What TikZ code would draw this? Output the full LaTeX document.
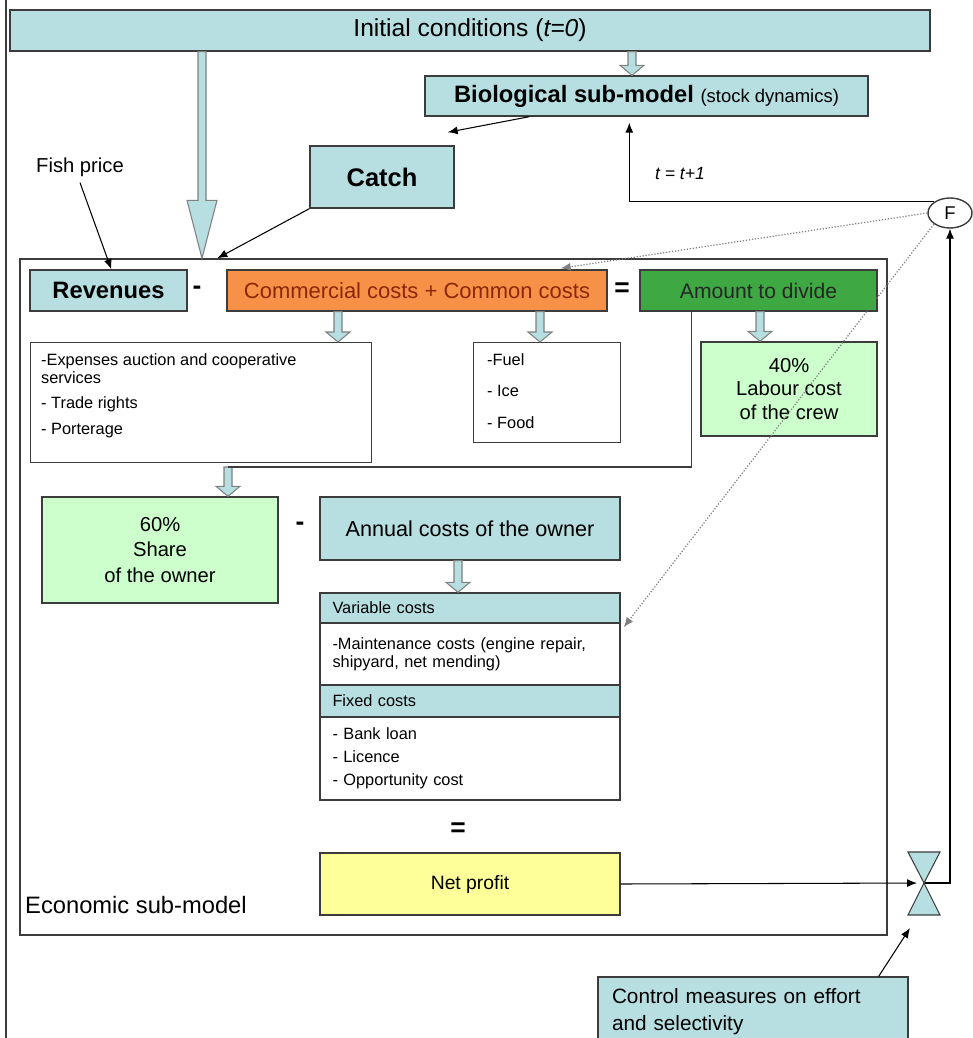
\documentclass[tikz,border=0pt]{standalone}
\usepackage{fontspec}
\setmainfont{Liberation Sans}
\usetikzlibrary{arrows.meta,positioning,calc,shapes.geometric}
\definecolor{edge}{RGB}{60,60,60}
\definecolor{teal1}{RGB}{183,222,225}
% hollow block arrow: head length, head half width, from, to
\newcommand{\blockarrow}[4]{%
  \draw[hollow] ($#3+(-4,0)$) -- ($#4+(-4,-#1)$) -- ($#4+(-#2,-#1)$) -- #4
    -- ($#4+(#2,-#1)$) -- ($#4+(4,-#1)$) -- ($#3+(4,0)$) -- cycle;}

\begin{document}
\begin{tikzpicture}[x=0.2mm,y=-0.2mm,>={Latex[length=2mm,width=1.6mm]},
  box/.style={draw=edge,line width=0.8pt,inner sep=0pt},
  hollow/.style={draw=gray,fill=teal1,line width=0.6pt},
  dotline/.style={gray,densely dotted,line width=0.7pt},
  sign/.style={font=\fontsize{15}{17}\selectfont\bfseries},
  small/.style={font=\fontsize{9.3}{10.5}\selectfont,align=left},
  mid/.style={font=\fontsize{11.5}{13.5}\selectfont,align=center}]
\definecolor{cOr}{RGB}{247,145,71}\definecolor{cOrT}{RGB}{140,40,10}
\definecolor{cGr}{RGB}{62,168,66}\definecolor{cGrL}{RGB}{204,255,204}
\definecolor{cYe}{RGB}{255,255,153}
\useasboundingbox (0,0) rectangle (972,1038);
\draw[edge,line width=0.8pt] (6,0) -- (6,1038);
% top part
\node[box,fill=teal1,minimum width=184mm,minimum height=8.2mm,font=\fontsize{14}{16}\selectfont] (init) at (470,30.5) {Initial conditions (\textit{t=0})};
\node[box,fill=teal1,minimum width=88.6mm,minimum height=8mm] (bio) at (646.5,96)
  {\fontsize{13.5}{15}\selectfont\bfseries Biological sub-model \fontsize{10.5}{12}\selectfont\mdseries(stock dynamics)};
\node[box,fill=teal1,minimum width=28.8mm,minimum height=12.4mm,font=\fontsize{14.5}{16}\selectfont\bfseries] (catch) at (382,177) {Catch};
\node[font=\fontsize{11.5}{13}\selectfont] (fish) at (80,167) {Fish price};
\node[ellipse,draw=edge,line width=0.8pt,minimum width=8.8mm,minimum height=6mm,inner sep=0pt,font=\fontsize{10.5}{12}\selectfont] (F) at (950,213) {F};
\node[font=\fontsize{10}{12}\selectfont\itshape] (tinc) at (680,174) {t = t+1};
% economic sub-model
\node[box,minimum width=173.4mm,minimum height=135.2mm] (econ) at (453.5,597) {};
\node[anchor=south west,font=\fontsize{13.5}{15}\selectfont] (econlbl) at (19,920) {Economic sub-model};
\node[box,fill=teal1,minimum width=31.4mm,minimum height=8.2mm,font=\fontsize{13.5}{15}\selectfont\bfseries] (rev) at (108.5,290.5) {Revenues};
\node[sign] (m1) at (197,290) {-};
\node[box,fill=cOr,minimum width=76mm,minimum height=8.2mm,text=cOrT,font=\fontsize{12.5}{14}\selectfont] (comm) at (417,290.5) {Commercial costs + Common costs};
\node[sign] (e1) at (622,290) {=};
\node[box,fill=cGr,minimum width=47.4mm,minimum height=8.2mm,text=black!85,font=\fontsize{12}{14}\selectfont] (amount) at (758.5,290.5) {Amount to divide};
\node[box,anchor=north west,minimum width=68.2mm,minimum height=24mm] (comlist) at (30,342) {};
\node[small,anchor=north west] (comtxt) at ($(comlist.north west)+(5,5)$)
  {-Expenses auction and cooperative\\services\\[4pt]- Trade rights\\[4pt]- Porterage};
\node[box,anchor=north west,minimum width=29.4mm,minimum height=20mm] (fuel) at (473,342) {};
\node[small,anchor=north west,font=\fontsize{9.3}{18}\selectfont] (fueltxt) at ($(fuel.north west)+(8,5)$)
  {-Fuel\\- Ice\\- Food};
\node[box,fill=cGrL,minimum width=35.2mm,minimum height=18.8mm,mid] (labour) at (789,389) {40\%\\Labour cost\\of the crew};
\coordinate (split) at (228,467);
\node[box,fill=cGrL,minimum width=47.2mm,minimum height=21.2mm,mid,font=\fontsize{11.5}{14.5}\selectfont] (share) at (160,550) {60\%\\Share\\of the owner};
\node[sign] (m2) at (300,526) {-};
\node[box,fill=teal1,minimum width=60mm,minimum height=12.6mm,mid,font=\fontsize{12.3}{14}\selectfont] (annual) at (470,528.5) {Annual costs of the owner};
% owner costs table
\node[box,fill=teal1,minimum width=60mm,minimum height=6mm,text width=55mm,small] (varhead) at (470,608) {Variable costs};
\node[box,fill=white,minimum width=60mm,minimum height=12.4mm,text width=55mm,small] (varbody) at (470,654) {-Maintenance costs (engine repair,\\shipyard, net mending)};
\node[box,fill=teal1,minimum width=60mm,minimum height=6.4mm,text width=55mm,small] (fixhead) at (470,701) {Fixed costs};
\node[box,fill=white,minimum width=60mm,minimum height=16.6mm,text width=55mm,small,font=\fontsize{9.3}{13}\selectfont] (fixbody) at (470,758.5) {- Bank loan\\- Licence\\- Opportunity cost};
\node[sign] (e2) at (458,830) {=};
\node[box,fill=cYe,minimum width=60mm,minimum height=12.4mm,font=\fontsize{11}{13}\selectfont] (net) at (470,884) {Net profit};
% valve and control
\coordinate (valve) at (924,883);
\node[box,fill=teal1,minimum width=62mm,minimum height=14mm,text width=56.4mm,align=left,font=\fontsize{11.8}{15.3}\selectfont] (control) at (753,1012) {Control measures on effort\\and selectivity};
% block arrows
\blockarrow{10}{12}{(632,0 |- init.south)}{(632,0 |- bio.north)}
\blockarrow{58}{15}{(202,0 |- init.south)}{(202,0 |- econ.north)}
\blockarrow{10}{12}{(338,0 |- comm.south)}{(338,0 |- comlist.north)}
\blockarrow{10}{12}{(540,0 |- comm.south)}{(540,0 |- fuel.north)}
\blockarrow{10}{12}{(760,0 |- amount.south)}{(760,0 |- labour.north)}
\blockarrow{10}{12}{(split)}{(split |- share.north)}
\blockarrow{10}{12}{(458,0 |- annual.south)}{(458,0 |- varhead.north)}
% connectors
\draw[edge,line width=0.7pt] ($(amount.south west)+(52,0)$) |- (split);
\draw[->,line width=0.6pt] ($(bio.south west)+(105,0)$) -- ($(catch.north east)+(-7,-13)$);
\draw[->,line width=0.6pt] (fish.south) -- ($(rev.north west)+(82,0)$);
\draw[->,line width=0.6pt] (catch.south west) -- ($(econ.north west)+(198,0)$);
\draw[->,line width=0.6pt] (F.north west) -| ($(bio.south west)+(205,6)$);
\draw[dotline,->] (F.west) -- ($(comm.north east)+(-47,-1)$);
\draw[dotline,->] (F.south west) -- ($(varbody.north east)+(3,5)$);
\draw[->,line width=0.6pt,shorten >=1.4mm] (net.east) -- (valve);
\draw[->,line width=0.6pt] (valve) -| (F.south);
\draw[->,line width=0.6pt] ($(control.north east)+(-30,0)$) -- ($(valve)+(-14,45)$);
\draw[hollow,draw=edge] (908,852) -- (940,852) -- (valve) -- cycle;
\draw[hollow,draw=edge] (908,915) -- (940,915) -- (valve) -- cycle;
\end{tikzpicture}
\end{document}
